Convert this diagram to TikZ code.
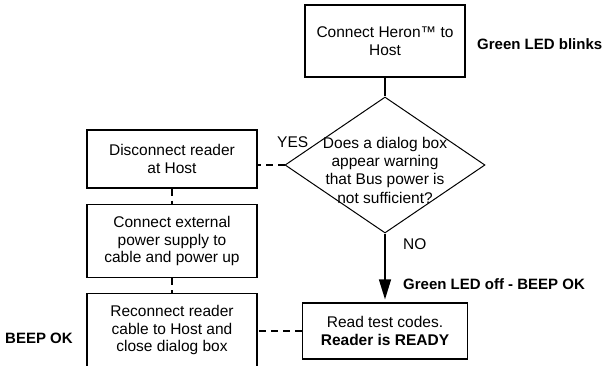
\documentclass[tikz,border=0pt]{standalone}
\usepackage{fontspec}
\setmainfont{Liberation Sans}
\usetikzlibrary{shapes.geometric,arrows.meta}
\newcommand{\tikzScale}{1.0}
\newcommand{\flowFont}{\fontsize{15.5}{17.5}\selectfont}
\newcommand{\flowBold}{\fontsize{15}{17.5}\selectfont\bfseries}
\tikzset{
  stepbox/.style={draw,line width=1.2pt,align=center,font=\flowFont,inner sep=0pt,minimum width=170pt},
  decisionbox/.style={draw,diamond,aspect=1.47,line width=1pt,font=\flowFont,inner sep=-10pt,
    minimum width=200pt,minimum height=136pt},
  flowtext/.style={font=\flowFont,inner sep=0pt,anchor=west},
  flownote/.style={font=\flowBold,inner sep=0pt,anchor=west},
  dashline/.style={line width=1.1pt,dash pattern=on 7pt off 5pt},
}

\begin{document}
\begin{tikzpicture}[x=1pt,y=-1pt,scale=\tikzScale]
   \useasboundingbox (0,0) rectangle (608,365);
   \clip (0,0) rectangle (608,365);

   \node[stepbox,minimum width=160pt,minimum height=72pt] (connect) at (385,41) {Connect Heron™ to\\Host};
   \node[decisionbox] (decision) at (385,165)
      {\raisebox{-7pt}[\height][\depth]{\renewcommand{\arraystretch}{1.05}%
       \begin{tabular}{@{}c@{}}Does a dialog box\\appear warning\\that Bus power is\\not sufficient?\end{tabular}}};
   \node[stepbox,minimum width=165pt,minimum height=56pt] (ready) at (385,331) {Read test codes.\\\textbf{Reader is READY}};

   \node[stepbox,minimum height=58pt] (disconnect) at (172,159) {Disconnect reader\\at Host};
   \node[stepbox,minimum height=73pt] (external) at (172,241) {Connect external\\power supply to\\cable and power up};
   \node[stepbox,minimum height=73pt] (reconnect) at (172,330) {Reconnect reader\\cable to Host and\\close dialog box};

   \node[flownote] (blinks) at (477,44) {Green LED blinks};
   \node[flowtext] (yes) at (277,142) {YES};
   \node[flowtext] (no) at (403,244) {NO};
   \node[flownote] (ledoff) at (403,284) {Green LED off - BEEP OK};
   \node[flownote] (beepok) at (5,338) {BEEP OK};

   \draw[line width=1.2pt] (connect) -- (decision);
   \draw[-{Triangle[length=20pt,width=12pt]},line width=1.3pt,shorten >=3pt] (decision.south) -- (ready.north);

   \draw[dashline] (decision.west) -- (decision.west -| disconnect.east);
   \draw[dashline] (disconnect) -- (external);
   \draw[dashline] (external) -- (reconnect);
   \draw[dashline] (ready.west) -- (ready.west -| reconnect.east);
\end{tikzpicture}
\end{document}
